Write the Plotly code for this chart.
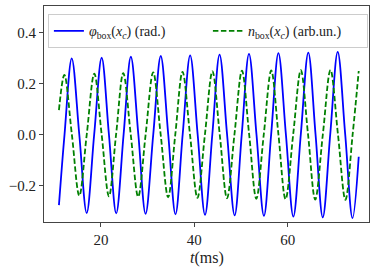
import plotly.graph_objects as go

# phi_box(x_c) at extrema and zero crossings
PHI_T = [11.0, 12.2, 13.74, 15.35, 16.94, 18.55, 20.15, 21.7, 23.27, 24.85,
         26.4, 28.0, 29.55, 31.2, 32.8, 34.4, 35.96, 37.5, 39.1, 40.7,
         42.28, 43.85, 45.4, 47.0, 48.63, 50.15, 51.7, 53.3, 54.9, 56.45,
         58.0, 59.6, 61.2, 62.8, 64.4, 65.95, 67.5, 69.1, 70.7, 72.3,
         73.87, 75.2]
PHI_V = [-0.278, 0.0, 0.298, 0.0, -0.309, 0.0, 0.300, 0.0, -0.310, 0.0,
         0.304, 0.0, -0.312, 0.0, 0.307, 0.0, -0.314, 0.0, 0.309, 0.0,
         -0.316, 0.0, 0.312, 0.0, -0.318, 0.0, 0.315, 0.0, -0.320, 0.0,
         0.318, 0.0, -0.323, 0.0, 0.320, 0.0, -0.326, 0.0, 0.323, 0.0,
         -0.329, -0.088]

# n_box(x_c)
N_T = [11.0, 12.16, 13.76, 15.36, 16.96, 18.57, 20.14, 21.71, 23.24, 24.77,
       26.37, 27.97, 29.57, 31.18, 32.78, 34.38, 35.92, 37.46, 39.06, 40.66,
       42.27, 43.87, 45.43, 46.99, 48.59, 50.19, 51.73, 53.27, 54.87, 56.47,
       58.0, 59.53, 61.17, 62.8, 64.34, 65.88, 67.52, 69.15, 70.75, 72.35,
       73.9, 75.2]
N_V = [0.095, 0.233, 0.0, -0.241, 0.0, 0.238, 0.0, -0.243, 0.0, 0.240,
       0.0, -0.245, 0.0, 0.243, 0.0, -0.247, 0.0, 0.245, 0.0, -0.249,
       0.0, 0.247, 0.0, -0.251, 0.0, 0.249, 0.0, -0.253, 0.0, 0.250,
       0.0, -0.255, 0.0, 0.251, 0.0, -0.256, 0.0, 0.252, 0.0, -0.257,
       0.0, 0.248]

X_TICKS = [20, 40, 60]
Y_TICKS = [-0.2, 0.0, 0.2, 0.4]

FONT = "Liberation Serif"
AXIS_COLOR = "#444444"

fig = go.Figure()
fig.add_trace(go.Scatter(
    x=PHI_T, y=PHI_V, mode="lines",
    line={"color": "#0000ff", "width": 1.8, "shape": "spline", "smoothing": 1.0},
    name="<i>φ</i><sub>box</sub>(<i>x<sub>c</sub></i>) (rad.)",
))
fig.add_trace(go.Scatter(
    x=N_T, y=N_V, mode="lines",
    line={"color": "#008000", "width": 1.8, "dash": "5.5px,2.5px",
          "shape": "spline", "smoothing": 1.0},
    name="<i>n</i><sub>box</sub>(<i>x<sub>c</sub></i>) (arb.un.)",
))

axis_common = dict(
    showgrid=False, zeroline=False, showline=True, mirror=True, automargin=False,
    linecolor=AXIS_COLOR, linewidth=1, ticks="outside", ticklen=4,
    tickcolor=AXIS_COLOR, tickfont={"family": FONT, "size": 15, "color": "#222"},
)

fig.update_layout(
    template="none",
    width=382, height=268,
    margin={"l": 44, "r": 13, "t": 6, "b": 46},
    paper_bgcolor="white", plot_bgcolor="white",
    font={"family": FONT, "color": "#222"},
    xaxis=dict(axis_common, range=[7.8, 77.4], tickvals=X_TICKS),
    yaxis=dict(axis_common, range=[-0.344, 0.503], tickvals=Y_TICKS, tickformat=".1f"),
    legend={
        "orientation": "h", "x": 0.012, "y": 0.962, "xanchor": "left", "yanchor": "top",
        "bordercolor": "#cccccc", "borderwidth": 1, "bgcolor": "rgba(255,255,255,0.8)",
        "font": {"family": FONT, "size": 14, "color": "#222"},
        "entrywidth": 114, "entrywidthmode": "pixels",
    },
    annotations=[{
        "text": "<i>t</i>(ms)", "xref": "paper", "yref": "paper", "x": 0.5, "y": -0.115,
        "xanchor": "center", "yanchor": "top", "showarrow": False,
        "font": {"family": FONT, "size": 16, "color": "#222"},
    }],
    showlegend=True,
)

fig.write_html(
    "out.html",
    config={"displayModeBar": False},
    post_script="document.body.style.margin='0';",
)
